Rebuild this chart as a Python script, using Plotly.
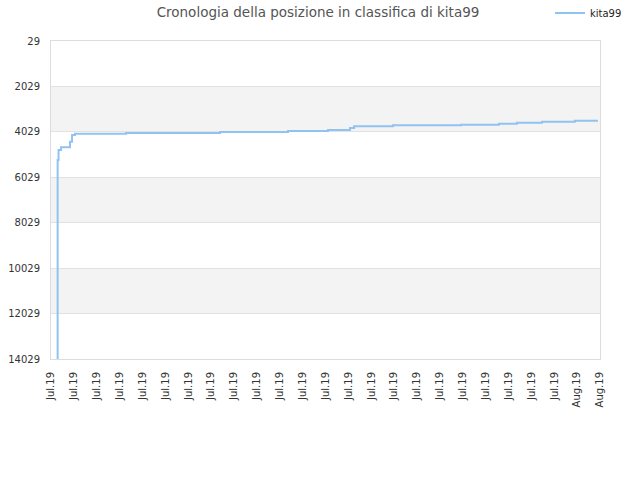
import plotly.graph_objects as go

# Data (x in tick units: 0 = first "Jul.19" tick, 24 = last "Aug.19" tick)
tick_labels = ["Jul.19"] * 23 + ["Aug.19"] * 2
pos_x = [0.29, 0.29, 0.33, 0.44, 0.74, 0.83, 0.92, 1.05, 3.28, 7.39, 10.36,
         12.11, 13.07, 13.25, 13.42, 14.95, 17.92, 19.58, 20.37, 21.46, 22.90, 23.91]
rank = [14029, 5268, 4830, 4710, 4710, 4460, 4170, 4110, 4080, 4036, 3992,
        3948, 3860, 3786, 3786, 3742, 3713, 3670, 3626, 3582, 3538, 3538]
y_ticks = [29, 2029, 4029, 6029, 8029, 10029, 12029, 14029]
bands = [(2029, 4029), (6029, 8029), (10029, 12029)]

fig = go.Figure()
fig.add_trace(go.Scatter(
    x=pos_x, y=rank, mode="lines", name="kita99",
    line=dict(color="#90c3f2", width=2, shape="hv"),
))

for y0, y1 in bands:
    fig.add_shape(type="rect", xref="paper", yref="y", x0=0, x1=1, y0=y0, y1=y1,
                  fillcolor="#f3f3f3", line_width=0, layer="below")

fig.update_layout(
    width=640, height=480,
    margin=dict(l=51, r=40, t=41, b=121, autoexpand=False),
    paper_bgcolor="white", plot_bgcolor="white",
    font=dict(family="DejaVu Sans", size=10, color="#333"),
    title=dict(text="Cronologia della posizione in classifica di kita99",
               x=318 / 640, xanchor="center", xref="container",
               y=1 - 12 / 480, yanchor="middle", yref="container",
               font=dict(size=13.5, color="#555")),
    showlegend=True,
    legend=dict(x=550 / 640, y=1 - 13 / 480, xref="container", yref="container",
                xanchor="left", yanchor="middle",
                font=dict(size=10, color="#222"), bgcolor="rgba(0,0,0,0)"),
    xaxis=dict(range=[0, 24], tickmode="array", tickvals=list(range(25)),
               ticktext=tick_labels, tickangle=-90, showgrid=False,
               showline=True, linecolor="#dddddd", mirror=True, zeroline=False,
               ticks="", automargin=False, ticklabelstandoff=8,
               tickfont=dict(size=10, color="#333")),
    yaxis=dict(range=[14029, 29], tickmode="array", tickvals=y_ticks,
               ticktext=[str(v) for v in y_ticks], showgrid=True,
               gridcolor="#e2e2e2", showline=True, linecolor="#dddddd",
               mirror=True, zeroline=False, ticks="", automargin=False,
               ticklabelstandoff=8, tickfont=dict(size=10, color="#333")),
)

fig.write_html("out.html", config={"displayModeBar": False},
               post_script="document.body.style.margin='0';document.body.style.padding='0';")
